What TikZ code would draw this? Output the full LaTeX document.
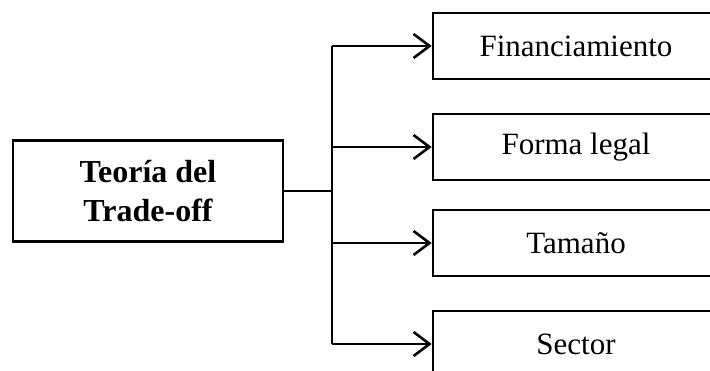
\documentclass[tikz,border=0pt]{standalone}
\usepackage{fontspec}
\setmainfont{Liberation Serif}
\usetikzlibrary{arrows.meta}

\begin{document}
\begin{tikzpicture}[x=1pt,y=-1pt,line width=2.6pt,
    >={Straight Barb[length=16pt,width=24pt,line width=2.6pt]},
    tema/.style={draw, minimum width=270pt, minimum height=101pt, align=center,
        font=\fontsize{32}{39}\selectfont\bfseries},
    factor/.style={draw, minimum width=286pt, minimum height=66pt,
        font=\fontsize{31}{36}\selectfont}]

    \clip (0,0) rectangle (710,371);

    \node[tema] (teoria) at (148,191) {Teoría del\\Trade-off};
    \node[factor] (fin) at (576,46) {Financiamiento};
    \node[factor] (forma) at (576,147) {Forma legal};
    \node[factor] (tam) at (576,243) {Tamaño};
    \node[factor] (sec) at (576,344) {Sector};

    \coordinate (rama) at (332,191);
    \draw (teoria.east) -- (rama);
    \draw (rama |- fin.west) -- (rama |- sec.west);
    \foreach \f in {fin,forma,tam,sec}
        \draw[->] (rama |- \f.west) -- (\f.west);
\end{tikzpicture}
\end{document}
